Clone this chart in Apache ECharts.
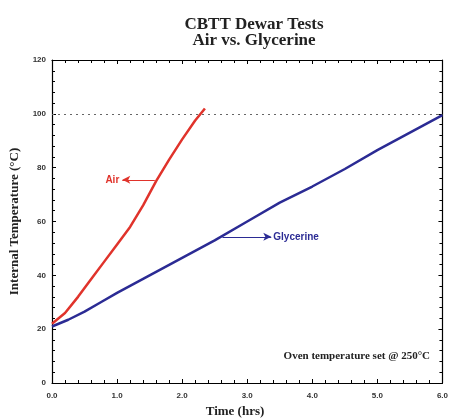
<!DOCTYPE html>
<html><head><meta charset="utf-8">
<script src="https://cdn.jsdelivr.net/npm/echarts@6/dist/echarts.min.js"></script>
<style>html,body{margin:0;padding:0;background:#fff}#c{width:451px;height:419px}</style>
</head><body><div id="c"></div>
<script>
const airTime = [0, 0.2, 0.4, 0.6, 0.8, 1.0, 1.2, 1.4, 1.6, 1.8, 2.0, 2.2, 2.35];
const airTemp = [22, 26, 32, 38.5, 45, 51.5, 58, 66, 75, 83, 90.5, 97.5, 102];
const glyTime = [0, 0.25, 0.5, 0.75, 1.0, 1.5, 2.0, 2.5, 3.0, 3.5, 4.0, 4.5, 5.0, 5.5, 6.0];
const glyTemp = [21, 23.5, 26.5, 30, 33.5, 40, 46.5, 53, 60, 67, 73, 79.5, 86.5, 93, 99.5];
const ovenSetpoint = 100;
const titleLines = ['CBTT Dewar Tests', 'Air vs. Glycerine'];
const xName = 'Time (hrs)';
const yName = 'Internal Temperature (°C)';
const noteText = 'Oven temperature set @ 250°C';

const serif = '"Liberation Serif", "DejaVu Serif", serif';
const sans = '"Liberation Sans", Arial, sans-serif';
const tickStyle = {show: true, inside: true, length: 4, lineStyle: {color: '#000'}};
const minorStyle = {show: true, splitNumber: 5, length: 3, lineStyle: {color: '#000'}};

function axisCommon(extra) {
  return Object.assign({
    type: 'value',
    axisLine: {show: true, onZero: false, lineStyle: {color: '#000', width: 1.2}},
    axisTick: tickStyle,
    minorTick: minorStyle,
    splitLine: {show: false}
  }, extra);
}

const chart = echarts.init(document.getElementById('c'));
chart.setOption({
  animation: false,
  title: {
    text: titleLines.join('\n'),
    left: 249, textAlign: 'center', top: 12,
    textStyle: {fontFamily: serif, fontWeight: 'bold', fontSize: 17, lineHeight: 16, color: '#222'}
  },
  grid: {left: 52, right: 7, top: 60, bottom: 36},
  xAxis: [
    axisCommon({
      min: 0, max: 6, interval: 1, position: 'bottom',
      axisLabel: {formatter: v => v.toFixed(1), fontFamily: sans, fontWeight: 'bold', fontSize: 8, color: '#333', margin: 9}
    }),
    axisCommon({min: 0, max: 6, interval: 1, position: 'top', axisLabel: {show: false}})
  ],
  yAxis: [
    axisCommon({
      min: 0, max: 120, interval: 20, position: 'left',
      name: yName, nameLocation: 'middle', nameGap: 31,
      nameTextStyle: {fontFamily: serif, fontWeight: 'bold', fontSize: 13, color: '#222'},
      axisLabel: {fontFamily: sans, fontWeight: 'bold', fontSize: 8, color: '#333', margin: 6}
    }),
    axisCommon({min: 0, max: 120, interval: 20, position: 'right', axisLabel: {show: false}})
  ],
  series: [
    {
      type: 'line', name: 'Air', showSymbol: false, smooth: false,
      data: airTime.map((t, i) => [t, airTemp[i]]),
      lineStyle: {color: '#e0332b', width: 2.5},
      markLine: {
        silent: true, symbol: ['none', 'arrow'], symbolSize: [6, 8],
        lineStyle: {color: '#e0332b', width: 1, type: 'solid'},
        label: {show: true, position: 'end', formatter: 'Air', color: '#e0332b', fontFamily: sans, fontWeight: 'bold', fontSize: 10, distance: 3},
        data: [[{coord: [1.58, 75.5]}, {coord: [1.08, 75.5]}]]
      }
    },
    {
      type: 'line', name: 'Glycerine', showSymbol: false, smooth: false,
      data: glyTime.map((t, i) => [t, glyTemp[i]]),
      lineStyle: {color: '#2b2b94', width: 2.5},
      markLine: {
        silent: true, symbol: ['none', 'arrow'], symbolSize: [6, 8],
        lineStyle: {color: '#2b2b94', width: 1, type: 'solid'},
        label: {show: true, position: 'end', formatter: 'Glycerine', color: '#2b2b94', fontFamily: sans, fontWeight: 'bold', fontSize: 10, distance: 2},
        data: [[{coord: [2.62, 54.3]}, {coord: [3.37, 54.3]}]]
      }
    },
    {
      type: 'line', data: [], silent: true,
      markLine: {
        silent: true, symbol: 'none',
        lineStyle: {color: '#666', width: 1, type: [2, 4]},
        label: {show: false},
        data: [{yAxis: ovenSetpoint}]
      }
    }
  ],
  graphic: [
    {
      type: 'text', right: 21, top: 351,
      style: {text: noteText, font: 'bold 11px "Liberation Serif", serif', fill: '#222'}
    },
    {
      type: 'text', x: 235, y: 412,
      style: {text: xName, font: 'bold 13px "Liberation Serif", serif', fill: '#222', align: 'center', verticalAlign: 'middle'}
    }
  ]
});
</script></body></html>
